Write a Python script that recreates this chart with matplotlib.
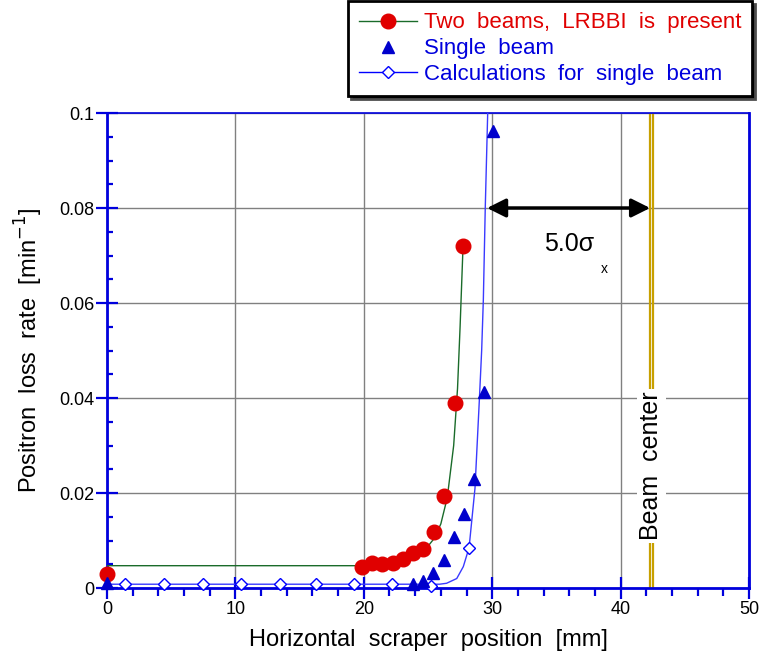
import matplotlib.pyplot as plt
from matplotlib.lines import Line2D
from matplotlib.ticker import MultipleLocator

plt.rcParams['font.family'] = ['Liberation Sans', 'DejaVu Sans']

# Two beams, LRBBI present (measured)
x_two = [0.0, 19.86, 20.66, 21.44, 22.25, 23.05, 23.85, 24.63, 25.44, 26.25, 27.1, 27.73]
y_two = [0.0029, 0.0045, 0.0053, 0.0051, 0.0052, 0.0061, 0.0073, 0.0083, 0.0117, 0.0194, 0.039, 0.072]

# fit curve for two beams
x_two_fit = [0.0, 19.9, 21.0, 22.0, 23.0, 24.0, 25.0, 25.5, 26.0, 26.5, 27.0, 27.3, 27.5, 27.73]
y_two_fit = [0.0047, 0.0047, 0.0049, 0.0052, 0.0058, 0.0068, 0.0088, 0.0105, 0.0135, 0.019, 0.03, 0.042, 0.055, 0.072]

# Single beam (measured)
x_single = [0.0, 23.8, 24.63, 25.41, 26.22, 27.02, 27.8, 28.58, 29.36, 30.06]
y_single = [0.001, 0.0008, 0.0015, 0.0031, 0.0059, 0.0107, 0.0156, 0.0229, 0.0413, 0.0962]

# Calculations for single beam
x_calc = [1.43, 4.44, 7.48, 10.46, 13.47, 16.25, 19.25, 22.2, 25.2, 28.2]
y_calc = [0.0008, 0.0008, 0.0008, 0.0008, 0.0008, 0.0008, 0.0008, 0.0008, 0.0005, 0.0085]

x_calc_line = [0.0, 25.2, 25.9, 26.45, 27.24, 27.75, 28.2, 28.66, 29.0, 29.18, 29.31, 29.46, 29.65]
y_calc_line = [0.0008, 0.0008, 0.0008, 0.001, 0.002, 0.0045, 0.0085, 0.021, 0.0396, 0.05, 0.0606, 0.08, 0.1]

x_ticks = [0, 10, 20, 30, 40, 50]
x_ticklabels = ['0', '10', '20', '30', '40', '50']
y_ticks = [0, 0.02, 0.04, 0.06, 0.08, 0.1]
y_ticklabels = ['0', '0.02', '0.04', '0.06', '0.08', '0.1']

beam_center = 42.4
sigma_label = '5.0σ'

fig = plt.figure(figsize=(7.6, 6.57), dpi=100)
ax = fig.add_axes([0.1408, 0.105, 0.8447, 0.723])

ax.plot(x_two_fit, y_two_fit, color='#1a6b2a', lw=1, zorder=3)
ax.plot(x_calc_line, y_calc_line, color='#3a3aff', lw=1, zorder=3)
ax.plot(x_two, y_two, 'o', color='#e00000', ms=10.5, mec='#e00000', zorder=5, clip_on=False)
ax.plot(x_single, y_single, '^', color='#0000cc', ms=9, zorder=5, clip_on=False)
ax.plot(x_calc, y_calc, 'D', mfc='white', mec='#0000ff', mew=1, ms=6.5, zorder=4, clip_on=False)

# beam center double line
ax.axvline(beam_center - 0.1, color='#c8a000', lw=1.6, zorder=2)
ax.axvline(beam_center + 0.1, color='#c8a000', lw=1.6, zorder=2)
ax.text(beam_center, 0.0257, 'Beam  center', rotation=90, ha='center', va='center',
        fontsize=18, bbox=dict(facecolor='white', edgecolor='none', pad=2), zorder=4)

ax.annotate('', xy=(29.6, 0.08), xytext=(beam_center - 0.1, 0.08),
            arrowprops=dict(arrowstyle='<|-|>', color='black', lw=2.5, mutation_scale=28,
                            shrinkA=0, shrinkB=0), zorder=6)
ax.text(34.0, 0.0725, sigma_label, fontsize=18, ha='left', va='center')
ax.text(38.5, 0.0672, 'x', fontsize=10, ha='left', va='center')

ax.set_xlim(0, 50)
ax.set_ylim(0, 0.1)
ax.set_xticks(x_ticks)
ax.set_xticklabels(x_ticklabels)
ax.set_yticks(y_ticks)
ax.set_yticklabels(y_ticklabels)
ax.xaxis.set_minor_locator(MultipleLocator(2))
ax.yaxis.set_minor_locator(MultipleLocator(0.005))

ax.grid(True, which='major', color='#808080', lw=1)
ax.set_axisbelow(True)

ax.tick_params(axis='x', which='major', direction='inout', length=16.5, width=1.6,
               color='#0000dd', labelsize=13, pad=1)
ax.tick_params(axis='x', which='minor', direction='out', length=5.5, width=1.6, color='#0000dd')
ax.tick_params(axis='y', which='major', direction='inout', length=16.5, width=1.6,
               color='#0000dd', labelsize=13, pad=1)
ax.tick_params(axis='y', which='minor', direction='in', length=4.5, width=1.6, color='#0000dd')

for side in ['left', 'bottom', 'right']:
    ax.spines[side].set_color('#0000dd')
    ax.spines[side].set_linewidth(2)
ax.spines['top'].set_color('#0000dd')
ax.spines['top'].set_linewidth(1.2)

ax.set_xlabel('Horizontal  scraper  position  [mm]', fontsize=17, labelpad=8)
ax.set_ylabel('Positron  loss  rate  [min$^{-1}$]', fontsize=17, labelpad=10)

handles = [
    Line2D([], [], color='#1a6b2a', lw=1, marker='o', ms=10.5, mfc='#e00000', mec='#e00000'),
    Line2D([], [], ls='none', marker='^', ms=9, color='#0000cc'),
    Line2D([], [], color='#0000ff', lw=1, marker='D', ms=6.5, mfc='white', mec='#0000ff'),
]
labels = ['Two  beams,  LRBBI  is  present', 'Single  beam', 'Calculations  for  single  beam']
leg = fig.legend(handles, labels, loc='upper right', bbox_to_anchor=(0.99, 0.998),
                 borderaxespad=0, fontsize=16, frameon=True, fancybox=False, framealpha=1,
                 edgecolor='black', handlelength=2.6, handletextpad=0.3, labelspacing=0.22,
                 borderpad=0.5, shadow={'facecolor': 'black', 'alpha': 1})
leg.get_frame().set_linewidth(2)
for txt, col in zip(leg.get_texts(), ['#e00000', '#0000dd', '#0000dd']):
    txt.set_color(col)

fig.savefig('out.png', dpi=100)
